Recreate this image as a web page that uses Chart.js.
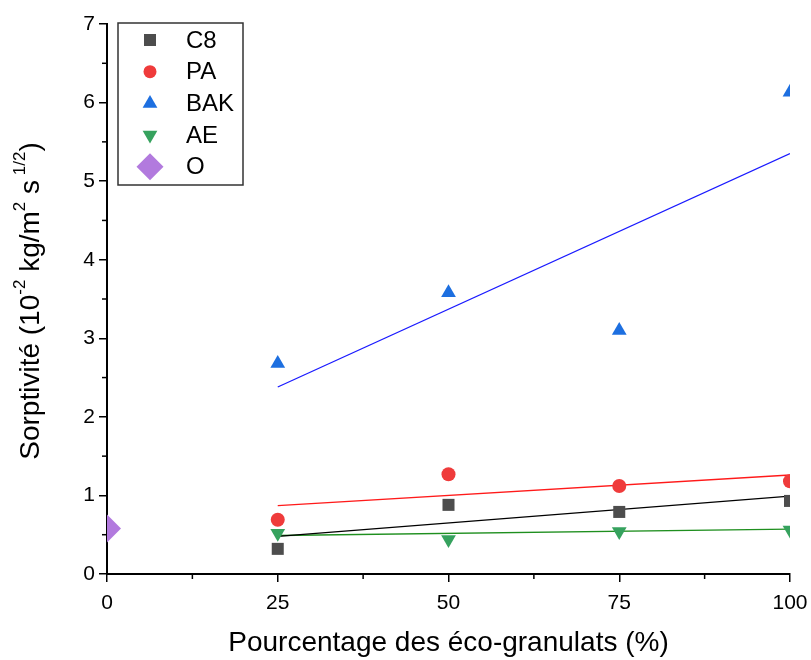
<!DOCTYPE html>
<html>
<head>
<meta charset="utf-8">
<script src="https://cdn.jsdelivr.net/npm/chart.js@4.4.0/dist/chart.umd.min.js"></script>
<style>
  body { margin: 0; background: #fff; }
</style>
</head>
<body>
<canvas id="myChart" width="811" height="660"></canvas>
<script>
// values
const xVals = [25, 50, 75, 100]
const c8 = [0.32, 0.88, 0.79, 0.93]
const pa = [0.69, 1.27, 1.12, 1.18]
const bak = [2.68, 3.58, 3.10, 6.13]
const ae = [0.52, 0.44, 0.54, 0.56]
const oX = [0]
const oY = [0.58]

// fitted lines, end points
const fitX = [25, 100]
const c8Fit = [0.48, 0.99]
const paFit = [0.87, 1.26]
const bakFit = [2.38, 5.35]
const aeFit = [0.49, 0.57]

const xTicks = [0, 25, 50, 75, 100]
const yTicks = [0, 1, 2, 3, 4, 5, 6, 7]

const FONT = "'Liberation Sans', Arial, sans-serif"

function pts(xs, ys) {
  return xs.map((x, i) => ({ x: x, y: ys[i] }))
}

function markers(label, xs, ys, color, style, radius, rotation) {
  return {
    label: label,
    data: pts(xs, ys),
    showLine: false,
    pointStyle: style,
    pointRadius: radius,
    pointHoverRadius: radius,
    pointRotation: rotation || 0,
    backgroundColor: color,
    borderColor: color,
    pointBorderWidth: 0,
    clip: 0
  }
}

function fitLine(ys, color) {
  return {
    label: '',
    data: pts(fitX, ys),
    showLine: true,
    borderColor: color,
    borderWidth: 1.3,
    pointRadius: 0,
    fill: false,
    clip: 0
  }
}

const legendItems = [
  { text: 'C8', color: '#4d4d4d', style: 'rect', radius: 8.5, rotation: 0 },
  { text: 'PA', color: '#ef3b3b', style: 'circle', radius: 6.5, rotation: 0 },
  { text: 'BAK', color: '#1d6fe0', style: 'triangle', radius: 8.5, rotation: 0 },
  { text: 'AE', color: '#36a25e', style: 'triangle', radius: 8.5, rotation: 180 },
  { text: 'O', color: '#b27ade', style: 'rectRot', radius: 13.5, rotation: 0 }
]

const data = {
  datasets: [
    markers('C8', xVals, c8, '#4d4d4d', 'rect', 8.5),
    markers('PA', xVals, pa, '#ef3b3b', 'circle', 7),
    markers('BAK', xVals, bak, '#1d6fe0', 'triangle', 8.5),
    markers('AE', xVals, ae, '#36a25e', 'triangle', 8.5, 180),
    markers('O', oX, oY, '#b27ade', 'rectRot', 14),
    fitLine(c8Fit, '#000000'),
    fitLine(paFit, '#ff1a1a'),
    fitLine(bakFit, '#1a1aff'),
    fitLine(aeFit, '#1f8f1f')
  ]
}

// minor ticks, y title with superscripts, boxed legend
const extras = {
  id: 'extras',
  afterDraw(chart) {
    const ctx = chart.ctx
    const xs = chart.scales.x
    const ys = chart.scales.y
    const area = chart.chartArea
    ctx.save()
    ctx.strokeStyle = '#000'
    ctx.lineWidth = 1.5
    for (let v = 12.5; v < 100; v += 25) {
      const px = xs.getPixelForValue(v)
      ctx.beginPath()
      ctx.moveTo(px, area.bottom)
      ctx.lineTo(px, area.bottom + 5)
      ctx.stroke()
    }
    for (let v = 0.5; v < 7; v += 1) {
      const py = ys.getPixelForValue(v)
      ctx.beginPath()
      ctx.moveTo(area.left, py)
      ctx.lineTo(area.left - 5, py)
      ctx.stroke()
    }
    ctx.restore()

    // y axis title
    const parts = [
      ['Sorptivité (10', false],
      ['-2', true],
      [' kg/m', false],
      ['2', true],
      [' s', false],
      [' 1/2', true],
      [')', false]
    ]
    const big = '28px ' + FONT
    const small = '17px ' + FONT
    ctx.save()
    let total = 0
    parts.forEach(p => {
      ctx.font = p[1] ? small : big
      total += ctx.measureText(p[0]).width
    })
    ctx.translate(31, (area.top + area.bottom) / 2 + 2)
    ctx.rotate(-Math.PI / 2)
    ctx.fillStyle = '#000'
    ctx.textBaseline = 'middle'
    let cx = -total / 2
    parts.forEach(p => {
      ctx.font = p[1] ? small : big
      ctx.fillText(p[0], cx, p[1] ? -11 : 0)
      cx += ctx.measureText(p[0]).width
    })
    ctx.restore()

    // legend
    ctx.save()
    ctx.fillStyle = '#fff'
    ctx.fillRect(118, 23, 125, 162)
    ctx.strokeStyle = '#333'
    ctx.lineWidth = 1.5
    ctx.strokeRect(118, 23, 125, 162)
    ctx.font = '24px ' + FONT
    ctx.textBaseline = 'middle'
    legendItems.forEach((it, i) => {
      const y = 40 + i * 31.7
      ctx.fillStyle = it.color
      Chart.helpers.drawPoint(ctx, {
        pointStyle: it.style, radius: it.radius, rotation: it.rotation, borderWidth: 0
      }, 150, y)
      ctx.fillStyle = '#000'
      ctx.fillText(it.text, 186, y + 1)
    })
    ctx.restore()
  }
}

const config = {
  type: 'scatter',
  data,
  options: {
    responsive: false,
    devicePixelRatio: 1,
    animation: false,
    layout: { padding: { top: 24, right: 21, left: 0, bottom: 0 } },
    plugins: {
      legend: { display: false },
      tooltip: { enabled: false }
    },
    scales: {
      x: {
        type: 'linear',
        min: 0,
        max: 100,
        afterBuildTicks: s => { s.ticks = xTicks.map(v => ({ value: v })) },
        afterFit: s => { s.height = 86; s.paddingLeft = 0; s.paddingRight = 0 },
        border: { display: true, color: '#000', width: 2 },
        grid: { display: true, drawOnChartArea: false, drawTicks: true, tickLength: 8, color: '#000', lineWidth: 1.5 },
        ticks: { color: '#000', font: { family: FONT, size: 21 }, padding: 9 },
        title: {
          display: true,
          text: 'Pourcentage des éco-granulats (%)',
          color: '#000',
          font: { family: FONT, size: 28 },
          padding: { top: 0, bottom: 0 }
        }
      },
      y: {
        type: 'linear',
        min: 0,
        max: 7,
        afterBuildTicks: s => { s.ticks = yTicks.map(v => ({ value: v })) },
        afterFit: s => { s.width = 107; s.paddingTop = 0; s.paddingBottom = 0 },
        border: { display: true, color: '#000', width: 2 },
        grid: { display: true, drawOnChartArea: false, drawTicks: true, tickLength: 8, color: '#000', lineWidth: 1.5 },
        ticks: { color: '#000', font: { family: FONT, size: 21 }, padding: 4 }
      }
    }
  },
  plugins: [extras]
}

const myChart = new Chart(document.querySelector('#myChart'), config)
</script>
</body>
</html>
